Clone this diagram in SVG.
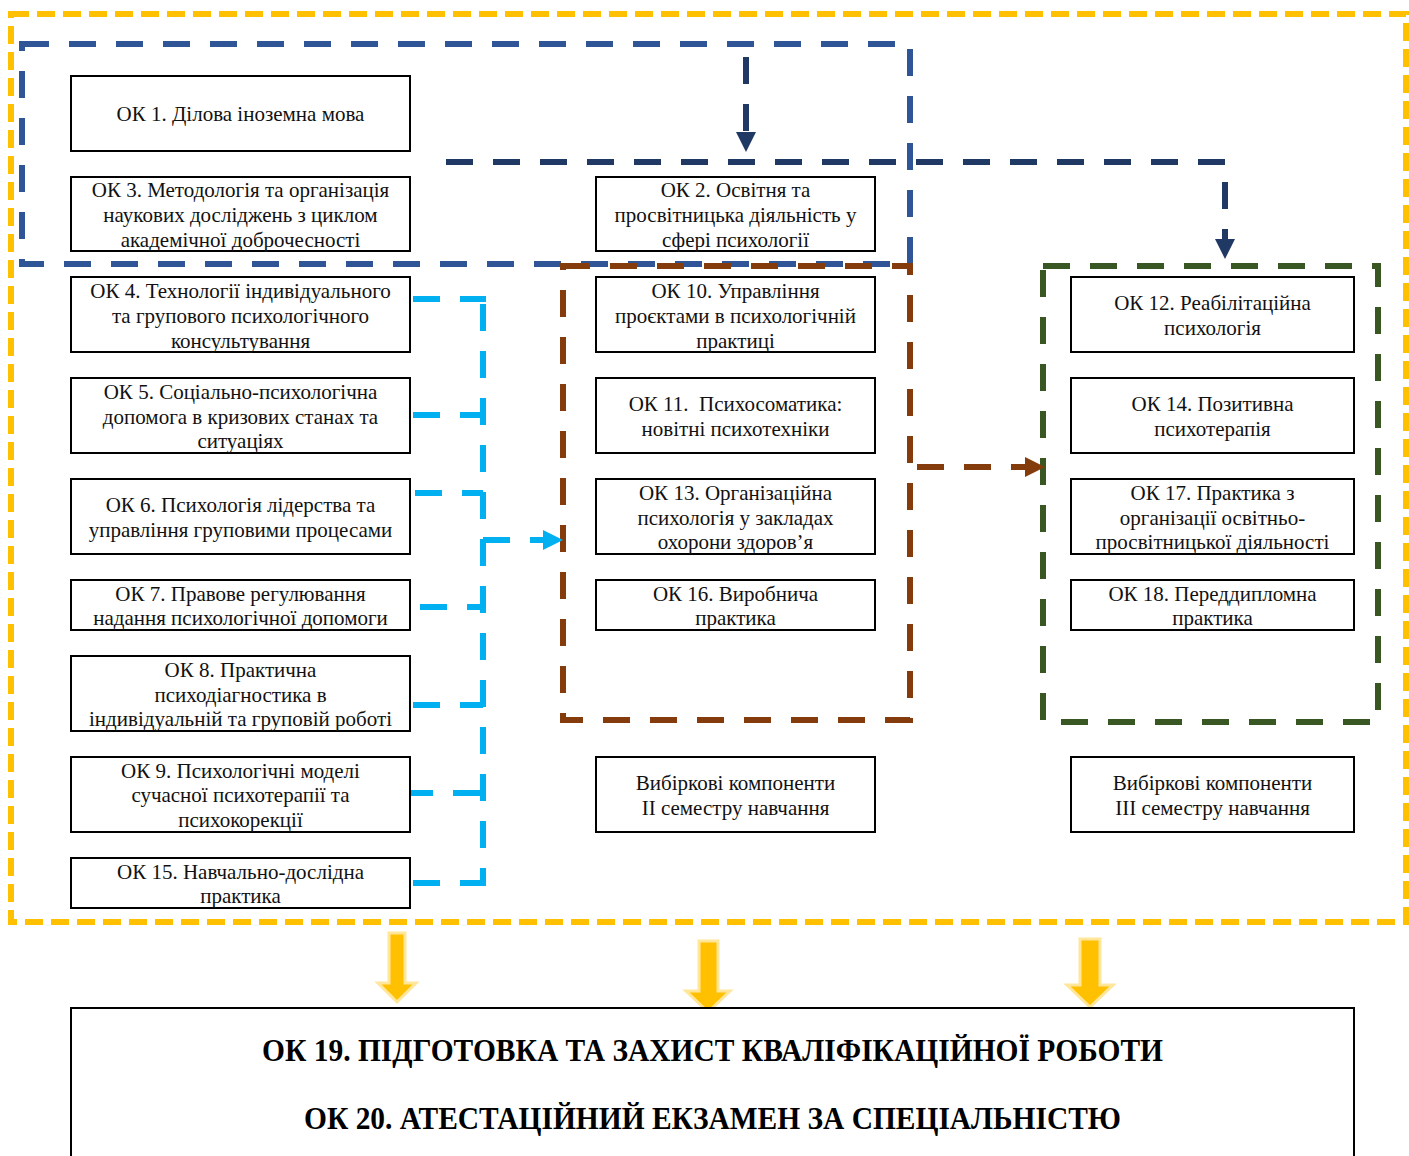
<svg xmlns="http://www.w3.org/2000/svg" width="1409" height="1156" viewBox="0 0 1409 1156">
<style>
.box{fill:#fff;stroke:#000;stroke-width:2}
.t{font-family:"Liberation Serif","Times New Roman",serif;font-size:21px;fill:#111;text-anchor:middle}
.b{font-family:"Liberation Serif","Times New Roman",serif;font-size:31px;font-weight:bold;fill:#000;text-anchor:middle}
.grp{fill:none;stroke-width:6;stroke-dasharray:27 20}
.yel{fill:none;stroke:#FFC000;stroke-width:6;stroke-dasharray:18 8}
.con{fill:none;stroke-width:6;stroke-dasharray:27 20}
.ya{fill:#FFC000;stroke:#FFE699;stroke-width:3}
</style>
<defs>
<marker id="mNavy" markerUnits="userSpaceOnUse" markerWidth="20" markerHeight="20" refX="0" refY="10" orient="auto" viewBox="0 0 20 20"><path d="M0,0 L20,10 L0,20 z" fill="#203864"/></marker>
<marker id="mCyan" markerUnits="userSpaceOnUse" markerWidth="20" markerHeight="20" refX="0" refY="10" orient="auto" viewBox="0 0 20 20"><path d="M0,0 L20,10 L0,20 z" fill="#00B0F0"/></marker>
<marker id="mBrown" markerUnits="userSpaceOnUse" markerWidth="20" markerHeight="20" refX="0" refY="10" orient="auto" viewBox="0 0 20 20"><path d="M0,0 L20,10 L0,20 z" fill="#843C0C"/></marker>
</defs>

<g id="frames">
<rect class="yel" x="11" y="14" width="1395" height="908"/>
<rect class="grp" x="22" y="44" width="888" height="220" stroke="#2F5597"/>
<rect class="grp" x="563" y="266" width="347" height="454" stroke="#843C0C"/>
<rect class="grp" x="1043" y="266" width="335" height="456" stroke="#385723"/>
</g>

<g id="connectors">
<path class="con" stroke="#203864" d="M746,57 V132" marker-end="url(#mNavy)"/>
<path class="con" stroke="#203864" d="M446,162 H1225 V239" marker-end="url(#mNavy)"/>
<path class="con" stroke="#00B0F0" d="M413,299 H486"/>
<path class="con" stroke="#00B0F0" d="M483,304 V886"/>
<path class="con" stroke="#00B0F0" d="M413,415 H483"/>
<path class="con" stroke="#00B0F0" d="M415,493 H483"/>
<path class="con" stroke="#00B0F0" d="M420,607 H484"/>
<path class="con" stroke="#00B0F0" d="M413,705 H483"/>
<path class="con" stroke="#00B0F0" d="M406,793 H483"/>
<path class="con" stroke="#00B0F0" d="M413,883 H483"/>
<path class="con" stroke="#00B0F0" d="M483,540 H543" marker-end="url(#mCyan)"/>
<path class="con" stroke="#843C0C" d="M917,467 H1025" marker-end="url(#mBrown)"/>
<polygon class="ya" points="389,933 405,933 405,983 416,983 397,1002 378,983 389,983"/>
<polygon class="ya" points="699,941 718,941 718,991 730,991 708,1012 686,991 699,991"/>
<polygon class="ya" points="1080,939 1100,939 1100,985 1113,985 1090,1007 1067,985 1080,985"/>
</g>

<g id="ok1"><rect class="box" x="71" y="76" width="339" height="75"/><text class="t" x="240.5" y="121">ОК 1. Ділова іноземна мова</text></g>
<g id="ok3"><rect class="box" x="71" y="177" width="339" height="74"/><text class="t" x="240.5" y="197">ОК 3. Методологія та організація</text><text class="t" x="240.5" y="222">наукових досліджень з циклом</text><text class="t" x="240.5" y="247">академічної доброчесності</text></g>
<g id="ok4"><rect class="box" x="71" y="277" width="339" height="75"/><text class="t" x="240.5" y="298">ОК 4. Технології індивідуального</text><text class="t" x="240.5" y="323">та групового психологічного</text><text class="t" x="240.5" y="348">консультування</text></g>
<g id="ok5"><rect class="box" x="71" y="378" width="339" height="75"/><text class="t" x="240.5" y="399">ОК 5. Соціально-психологічна</text><text class="t" x="240.5" y="424">допомога в кризових станах та</text><text class="t" x="240.5" y="448">ситуаціях</text></g>
<g id="ok6"><rect class="box" x="71" y="479" width="339" height="75"/><text class="t" x="240.5" y="512">ОК 6. Психологія лідерства та</text><text class="t" x="240.5" y="537">управління груповими процесами</text></g>
<g id="ok7"><rect class="box" x="71" y="580" width="339" height="50"/><text class="t" x="240.5" y="601">ОК 7. Правове регулювання</text><text class="t" x="240.5" y="625">надання психологічної допомоги</text></g>
<g id="ok8"><rect class="box" x="71" y="656" width="339" height="75"/><text class="t" x="240.5" y="677">ОК 8. Практична</text><text class="t" x="240.5" y="702">психодіагностика в</text><text class="t" x="240.5" y="726">індивідуальній та груповій роботі</text></g>
<g id="ok9"><rect class="box" x="71" y="757" width="339" height="75"/><text class="t" x="240.5" y="778">ОК 9. Психологічні моделі</text><text class="t" x="240.5" y="802">сучасної психотерапії та</text><text class="t" x="240.5" y="827">психокорекції</text></g>
<g id="ok15"><rect class="box" x="71" y="858" width="339" height="50"/><text class="t" x="240.5" y="879">ОК 15. Навчально-дослідна</text><text class="t" x="240.5" y="903">практика</text></g>

<g id="ok2"><rect class="box" x="596" y="177" width="279" height="74"/><text class="t" x="735.5" y="197">ОК 2. Освітня та</text><text class="t" x="735.5" y="222">просвітницька діяльність у</text><text class="t" x="735.5" y="247">сфері психології</text></g>
<g id="ok10"><rect class="box" x="596" y="277" width="279" height="75"/><text class="t" x="735.5" y="298">ОК 10. Управління</text><text class="t" x="735.5" y="323">проєктами в психологічній</text><text class="t" x="735.5" y="348">практиці</text></g>
<g id="ok11"><rect class="box" x="596" y="378" width="279" height="75"/><text class="t" x="735.5" y="411" xml:space="preserve">ОК 11.  Психосоматика:</text><text class="t" x="735.5" y="436">новітні психотехніки</text></g>
<g id="ok13"><rect class="box" x="596" y="479" width="279" height="75"/><text class="t" x="735.5" y="500">ОК 13. Організаційна</text><text class="t" x="735.5" y="525">психологія у закладах</text><text class="t" x="735.5" y="549">охорони здоров’я</text></g>
<g id="ok16"><rect class="box" x="596" y="580" width="279" height="50"/><text class="t" x="735.5" y="601">ОК 16. Виробнича</text><text class="t" x="735.5" y="625">практика</text></g>
<g id="elective2"><rect class="box" x="596" y="757" width="279" height="75"/><text class="t" x="735.5" y="790">Вибіркові компоненти</text><text class="t" x="735.5" y="815">ІІ семестру навчання</text></g>

<g id="ok12"><rect class="box" x="1071" y="277" width="283" height="75"/><text class="t" x="1212.5" y="310">ОК 12. Реабілітаційна</text><text class="t" x="1212.5" y="335">психологія</text></g>
<g id="ok14"><rect class="box" x="1071" y="378" width="283" height="75"/><text class="t" x="1212.5" y="411">ОК 14. Позитивна</text><text class="t" x="1212.5" y="436">психотерапія</text></g>
<g id="ok17"><rect class="box" x="1071" y="479" width="283" height="75"/><text class="t" x="1212.5" y="500">ОК 17. Практика з</text><text class="t" x="1212.5" y="525">організації освітньо-</text><text class="t" x="1212.5" y="549">просвітницької діяльності</text></g>
<g id="ok18"><rect class="box" x="1071" y="580" width="283" height="50"/><text class="t" x="1212.5" y="601">ОК 18. Переддипломна</text><text class="t" x="1212.5" y="625">практика</text></g>
<g id="elective3"><rect class="box" x="1071" y="757" width="283" height="75"/><text class="t" x="1212.5" y="790">Вибіркові компоненти</text><text class="t" x="1212.5" y="815">ІІІ семестру навчання</text></g>

<g id="ok19-20"><rect class="box" x="71" y="1008" width="1283" height="170"/><text class="b" x="712.5" y="1061" textLength="901" lengthAdjust="spacingAndGlyphs">ОК 19. ПІДГОТОВКА ТА ЗАХИСТ КВАЛІФІКАЦІЙНОЇ РОБОТИ</text><text class="b" x="712.5" y="1129" textLength="817" lengthAdjust="spacingAndGlyphs">ОК 20. АТЕСТАЦІЙНИЙ ЕКЗАМЕН ЗА СПЕЦІАЛЬНІСТЮ</text></g>
</svg>
